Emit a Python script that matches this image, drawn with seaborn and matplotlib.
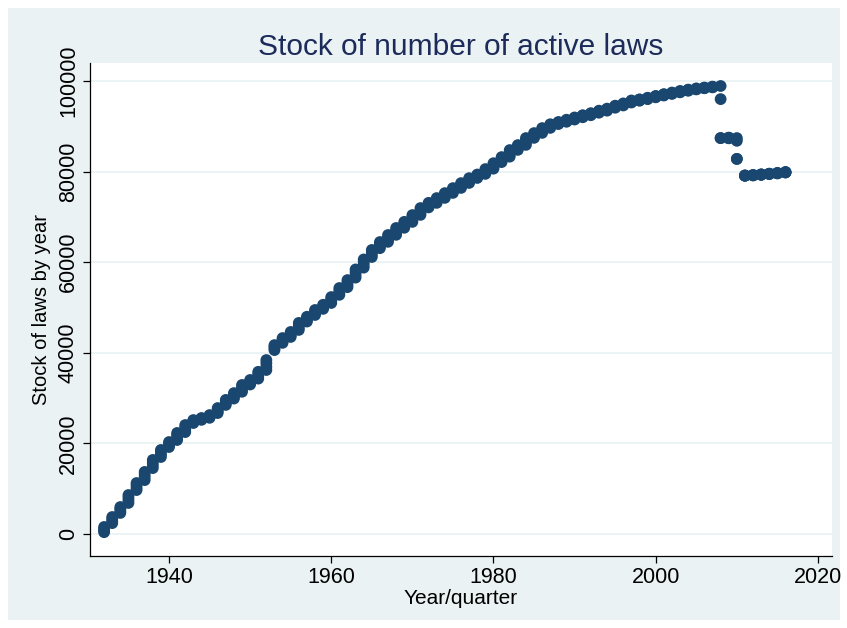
import numpy as np
import pandas as pd
import matplotlib
matplotlib.use("Agg")
import matplotlib.pyplot as plt
import matplotlib.patches as mpatches
import seaborn as sns

years = list(range(1932, 2017))

stock_q1 = [400, 2400, 4650, 6850, 9700, 11900, 14550, 17000, 19200, 20750,
            22500, 24500, 25200, 25650, 26700, 28500, 29900, 31400, 33000, 34300,
            36200, 40600, 42200, 43500, 45050, 46900, 48350, 49700, 51000, 52800,
            54500, 56600, 58800, 61150, 63100, 64500, 66050, 67600, 68900, 70450,
            72100, 73100, 74200, 75300, 76400, 77500, 78600, 79500, 80650, 82100,
            83300, 84800, 85900, 87450, 88550, 89650, 90500, 91000, 91500, 92000,
            92450, 93000, 93450, 94100, 94600, 95250, 95650, 96000, 96400, 96800,
            97150, 97500, 97850, 98150, 98400, 98600, 98900, 87350, 87400, 79100,
            79150, 79300, 79450, 79600, 79800]
stock_q2 = [800, 2850, 5100, 7450, 10200, 12500, 15150, 17500, 19550, 21250,
            23000, 24700, 25350, 25850, 27050, 28850, 30300, 31900, 33300, 34800,
            36900, 40950, 42550, 43850, 45550, 47250, 48700, 50000, 51450, 53300,
            55000, 57200, 59400, 61650, 63550, 65000, 66550, 68050, 69400, 70950,
            72450, 73450, 74550, 75650, 76750, 77850, 78850, 79850, 81050, 82450,
            83800, 85150, 86400, 87800, 88900, 89950, 90650, 91150, 91650, 92150,
            92600, 93150, 93600, 94250, 94750, 95400, 95750, 96100, 96500, 96900,
            97250, 97600, 97950, 98200, 98450, 98650, 96000, 87400, 86800, 79100,
            79200, 79300, 79500, 79650, 79850]
stock_q3 = [1150, 3300, 5550, 8050, 10750, 13100, 15750, 18000, 19950, 21800,
            23550, 24950, 25450, 26050, 27450, 29250, 30700, 32400, 33650, 35300,
            37700, 41350, 42900, 44250, 46100, 47600, 49100, 50300, 51850, 53800,
            55550, 57800, 60000, 62200, 64000, 65500, 67050, 68450, 69900, 71450,
            72800, 73800, 74900, 76000, 77100, 78200, 79100, 80200, 81450, 82850,
            84300, 85500, 86900, 88150, 89250, 90200, 90800, 91300, 91800, 92300,
            92750, 93300, 93750, 94400, 94900, 95550, 95850, 96200, 96600, 97000,
            97350, 97700, 98000, 98300, 98500, 98700, 87400, 87450, 82800, 79100,
            79200, 79350, 79500, 79650, 79850]
stock_q4 = [1550, 3750, 5950, 8600, 11250, 13700, 16350, 18550, 20300, 22300,
            24050, 25150, 25600, 26250, 27800, 29600, 31100, 32900, 34000, 35800,
            38400, 41700, 43250, 44600, 46600, 47950, 49450, 50600, 52300, 54300,
            56050, 58400, 60600, 62700, 64450, 66000, 67550, 68900, 70400, 71950,
            73100, 74150, 75250, 76350, 77450, 78550, 79350, 80550, 81850, 83200,
            84750, 85850, 87400, 88500, 89600, 90450, 90950, 91450, 91950, 92450,
            92900, 93450, 93900, 94550, 95050, 95700, 95950, 96300, 96700, 97100,
            97450, 97800, 98100, 98350, 98550, 98750, 87400, 87500, 82800, 79150,
            79250, 79400, 79550, 79700, 79900]

x_ticks = [1940, 1960, 1980, 2000, 2020]
y_ticks = [0, 20000, 40000, 60000, 80000, 100000]

rows = []
for q, vals in enumerate([stock_q1, stock_q2, stock_q3, stock_q4], start=1):
    for yr, v in zip(years, vals):
        rows.append({"year": yr, "quarter": q, "stock": v})
df = pd.DataFrame(rows)

sns.set_theme(style="white")
plt.rcParams['font.family'] = ['Liberation Sans', 'DejaVu Sans']

W, H = 847, 628
fig = plt.figure(figsize=(W / 100, H / 100), dpi=100)
fig.patch.set_facecolor("white")
bg = "#EAF2F3"
fig.patches.append(mpatches.Rectangle((8 / W, 8 / H), (840 - 8) / W, (620 - 8) / H,
                                      transform=fig.transFigure, facecolor=bg,
                                      edgecolor="none", zorder=-10))

left, right, top, bottom = 90, 832, 63, 556
ax = fig.add_axes([left / W, (H - bottom) / H, (right - left) / W, (bottom - top) / H])
ax.set_facecolor("white")

sns.scatterplot(data=df, x="year", y="stock", ax=ax, color="#1A476F",
                s=72, linewidth=0, edgecolor="none", zorder=3)

ax.set_xlim(1930.26, 2021.73)
ax.set_ylim(-4857, 103974)
ax.set_xticks(x_ticks)
ax.set_yticks(y_ticks)
ax.set_xticklabels([str(t) for t in x_ticks], fontsize=15.5)
ax.set_yticklabels([str(t) for t in y_ticks], fontsize=15.5, rotation=90, va="center")
ax.yaxis.grid(True, color=bg, linewidth=1.3, zorder=0)
ax.xaxis.grid(False)
ax.set_axisbelow(True)
for s in ["top", "right"]:
    ax.spines[s].set_visible(False)
for s in ["left", "bottom"]:
    ax.spines[s].set_color("black")
    ax.spines[s].set_linewidth(0.9)
ax.tick_params(axis="both", direction="out", length=5, width=0.9, color="black",
               labelcolor="black", bottom=True, left=True, pad=3)

ax.set_xlabel("Year/quarter", fontsize=15, color="black", labelpad=1)
ax.set_ylabel("Stock of laws by year", fontsize=14.5, color="black", labelpad=5)
ax.set_title("Stock of number of active laws", fontsize=21.5, color="#1C2B5A", pad=6)

fig.savefig("out.png", dpi=100, facecolor="white")
